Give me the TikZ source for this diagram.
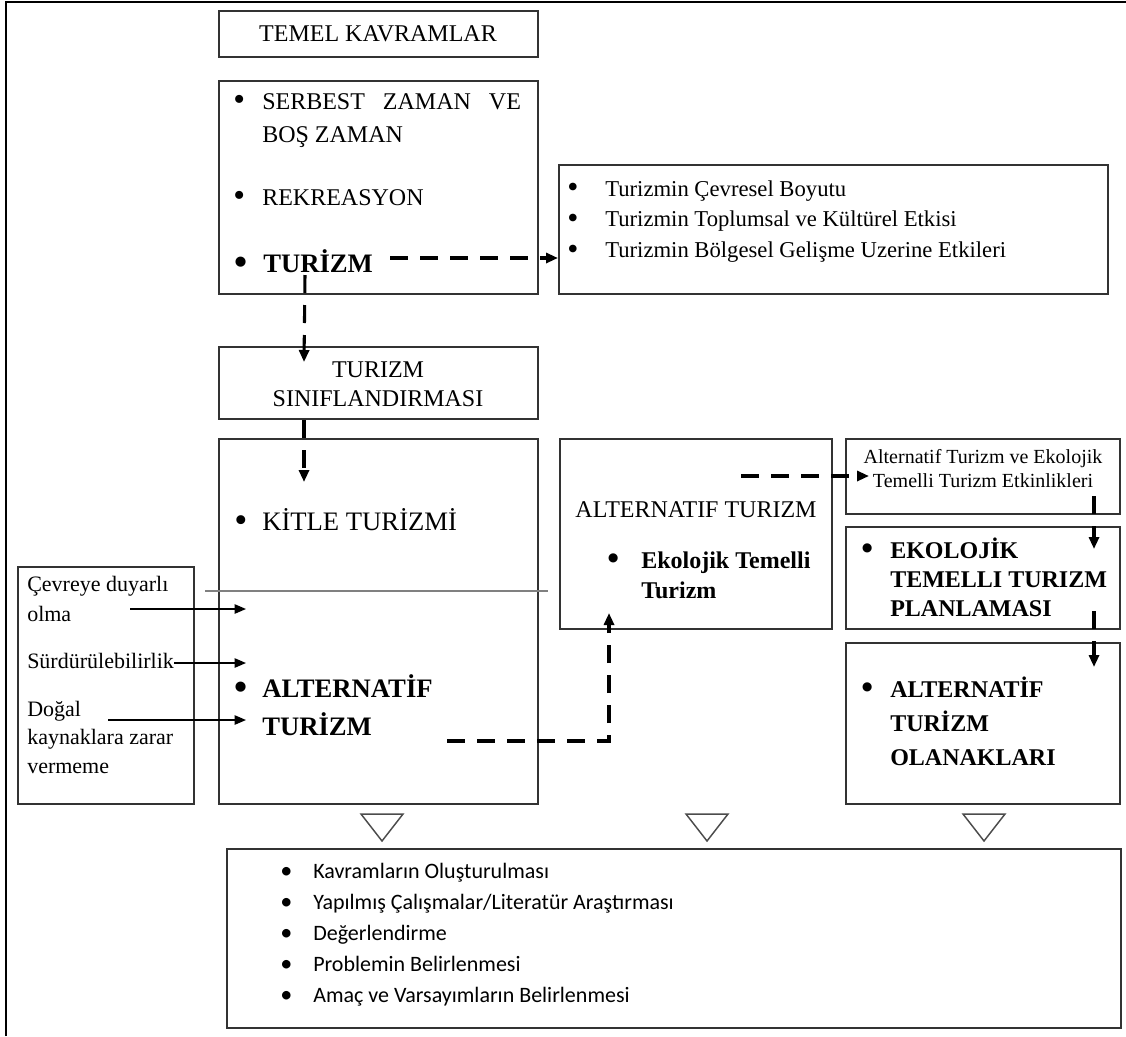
\documentclass[tikz,border=0pt]{standalone}
\usepackage{fontspec}
\setmainfont{Liberation Serif}
\newfontfamily\calibri{Carlito}
\usepackage{graphicx}
\usepackage{tikz}
\usetikzlibrary{arrows.meta,calc,fit}
\newcommand{\fsz}[2]{\fontsize{#1}{#2}\selectfont}
\newcommand{\bul}{\raisebox{-0.08em}{\scalebox{1.4}{\textbullet}}}
\newcommand{\sbul}{\raisebox{-0.02em}{\scalebox{1.1}{\textbullet}}}
\newcommand{\blist}[2]{\begin{tabular}[t]{@{}p{#1}@{}l@{}}#2\end{tabular}}
\newcommand{\llines}[1]{\begin{tabular}[t]{@{}l@{}}#1\end{tabular}}
\newcommand{\clines}[1]{\begin{tabular}[t]{@{}c@{}}#1\end{tabular}}
\tikzstyle{box_normal} = [draw=black!80, line width=1.5pt, inner sep=0pt]
\tikzstyle{text_item} = [inner sep=0pt, anchor=base west]
\tikzstyle{text_center} = [inner sep=0pt, anchor=base]
\tikzstyle{edge_dashed} = [line width=2.3pt, dash pattern=on 13.5pt off 9pt, -{Triangle[length=9pt,width=7.5pt]}]
\tikzstyle{edge_solid} = [line width=1.1pt, -{Triangle[length=8.5pt,width=7pt]}]
\tikzstyle{edge_gray} = [draw=black!50, line width=2pt]
\tikzstyle{marker} = [draw=black!70, line width=1.1pt]

\begin{document}
\begin{tikzpicture}[x=0.75pt,y=-0.75pt]
		\useasboundingbox (0,0) rectangle (1126,1036);
		\draw[line width=1.5pt] (6,1036) -- (6,1.5) -- (1126,1.5);
		
		% boxes
		\node[box_normal, fit={(219,11) (538,57)}] (TK) {};
		\node[box_normal, fit={(219,81) (538,294)}] (SZ) {};
		\node[box_normal, fit={(559,165) (1108,294)}] (TB) {};
		\node[box_normal, fit={(219,347) (538,419)}] (TS) {};
		\node[box_normal, fit={(219,439) (538,804)}] (KT) {};
		\node[box_normal, fit={(18,567) (194,804)}] (CO) {};
		\node[box_normal, fit={(560,439) (832,629)}] (AT) {};
		\node[box_normal, fit={(846,439) (1120,514)}] (AE) {};
		\node[box_normal, fit={(846,527) (1120,629)}] (EP) {};
		\node[box_normal, fit={(846,643) (1120,804)}] (AO) {};
		\node[box_normal, fit={(227,849) (1121,1028)}] (YA) {};
		
		% texts
		\node[text_center, font=\fsz{18pt}{22pt}] (temel) at (378,41) {TEMEL KAVRAMLAR};
		\node[text_item, font=\fsz{18pt}{24.75pt}] (serbest) at (233,109) {\blist{21.75pt}{\bul & \makebox[194pt][s]{SERBEST ZAMAN VE}\\ & BOŞ ZAMAN}};
		\node[text_item, font=\fsz{18pt}{24pt}] (rek) at (233,205) {\blist{21.75pt}{\bul & REKREASYON}};
		\node[text_item, font=\bfseries\fsz{20pt}{24pt}] (tz) at (234,272) {\blist{21.75pt}{\bul & TURİZM}};
		\node[text_item, font=\fsz{17pt}{23pt}] (boyut) at (567,196) {\blist{28.5pt}{\bul & Turizmin Çevresel Boyutu\\ \bul & Turizmin Toplumsal ve Kültürel Etkisi\\ \bul & Turizmin Bölgesel Gelişme Uzerine Etkileri}};
		\node[text_center, font=\fsz{18pt}{21.75pt}] (sinif) at (378,377) {\clines{TURIZM\\SINIFLANDIRMASI}};
		\node[text_item, font=\fsz{20pt}{24pt}] (kitle) at (234,530) {\blist{21pt}{\bul & KİTLE TURİZMİ}};
		\node[text_item, font=\bfseries\fsz{20pt}{28.5pt}] (alter) at (234,697) {\blist{21pt}{\bul & ALTERNATİF\\ & TURİZM}};
		\node[text_item, font=\fsz{16.5pt}{22.5pt}] (cevre) at (27,591) {\llines{Çevreye duyarlı\\olma}};
		\node[text_item, font=\fsz{16.5pt}{22.5pt}] (surd) at (27,668) {Sürdürülebilirlik};
		\node[text_item, font=\fsz{16.5pt}{21.5pt}] (dogal) at (27,716) {\llines{Doğal\\kaynaklara zarar\\vermeme}};
		\node[text_center, font=\fsz{18pt}{22pt}] (atit) at (696,517) {ALTERNATIF TURIZM};
		\node[text_item, font=\bfseries\fsz{18pt}{22.5pt}] (eko) at (607,568) {\blist{25.5pt}{\bul & Ekolojik Temelli\\ & Turizm}};
		\node[text_center, font=\fsz{15pt}{18pt}] (etkin) at (983,463) {\clines{Alternatif Turizm ve Ekolojik\\Temelli Turizm Etkinlikleri}};
		\node[text_item, font=\bfseries\fsz{18pt}{22.1pt}] (plan) at (861,558) {\blist{21.75pt}{\bul & EKOLOJİK\\ & TEMELLI TURIZM\\ & PLANLAMASI}};
		\node[text_item, font=\bfseries\fsz{18pt}{25.5pt}] (olanak) at (861,697) {\blist{21.75pt}{\bul & ALTERNATİF\\ & TURİZM\\ & OLANAKLARI}};
		\node[text_item, font=\calibri\fsz{16.5pt}{23.25pt}] (adim) at (280,878) {\blist{24.75pt}{\sbul & Kavramların Oluşturulması\\ \sbul & Yapılmış Çalışmalar/Literatür Araştırması\\ \sbul & Değerlendirme\\ \sbul & Problemin Belirlenmesi\\ \sbul & Amaç ve Varsayımların Belirlenmesi}};
		
		% dashed flow
		\draw[edge_dashed] ($(tz.base east)+(17,-14)$) -- ($(tz.base east -| TB.west)+(0,-14)$);
		\draw[edge_dashed] ($(tz.base west)+(71,3)$) -- ($(TS.north west)+(86,16)$);
		\draw[edge_dashed] ($(TS.south west)+(86,0)$) -- ($(KT.north west)+(86,44)$);
		\draw[edge_dashed] ($(KT.south west)+(229,-64)$) -| ($(AT.south west)+(50,-17)$);
		\draw[edge_dashed] ($(AT.north east)+(-92,38)$) -- ($(AE.north west)+(24,38)$);
		\draw[edge_dashed] ($(AE.south east)+(-27,-19)$) -- ($(EP.north east)+(-27,23)$);
		\draw[edge_dashed] ($(EP.south east)+(-27,-19)$) -- ($(AO.north east)+(-27,25)$);
		
		% criteria into the box
		\draw[edge_solid] ($(cevre.base west)+(103,18)$) -- ($(KT.west |- cevre.base)+(28,18)$);
		\draw[edge_solid] ($(surd.base east)+(0,-5)$) -- ($(KT.west |- surd.base)+(28,-5)$);
		\draw[edge_solid] ($(dogal.base west)+(81,4)$) -- ($(KT.west |- dogal.base)+(28,4)$);
		\draw[edge_gray] ($(CO.north east)+(10,25)$) -- ($(CO.north east -| AT.west)+(-11,25)$);
		
		\foreach \x in {382,707,984}
			\draw[marker] (\x-21,814) -- (\x+21,814) -- (\x,841) -- cycle;
\end{tikzpicture}
\end{document}
